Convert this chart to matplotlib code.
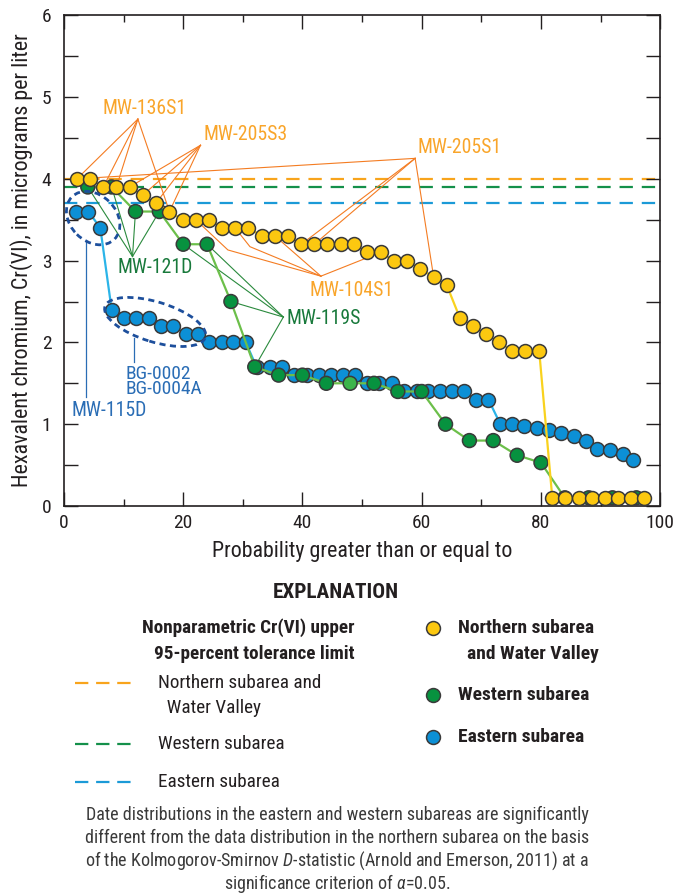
import matplotlib
matplotlib.use('Agg')
import matplotlib.pyplot as plt
from matplotlib import font_manager as fm
from matplotlib.lines import Line2D
from matplotlib.patches import Ellipse
from matplotlib.transforms import ScaledTranslation
from matplotlib.ticker import MultipleLocator


def pick_font():
    # a condensed sans close to the USGS Univers Condensed look
    static = {}
    for f in fm.fontManager.ttflist:
        if '[' not in f.fname:
            static.setdefault(f.name, set()).add((f.weight, f.style))
    for fam in ['Roboto Condensed', 'Fira Sans Condensed', 'IBM Plex Sans Condensed',
                'Asap Condensed', 'Barlow Semi Condensed', 'Liberation Sans Narrow']:
        w = static.get(fam, set())
        if (400, 'normal') in w and (700, 'normal') in w:
            return fam
    return 'DejaVu Sans'


font = pick_font()
plt.rcParams['font.family'] = [font, 'DejaVu Sans']
plt.rcParams['mathtext.fontset'] = 'custom'
plt.rcParams['mathtext.rm'] = font
plt.rcParams['mathtext.it'] = font + ':italic'

# Northern subarea and Water Valley
north_x = [2.2, 4.4, 6.6, 8.8, 11.0, 13.2, 15.4, 17.7, 19.9, 22.1, 24.3, 26.5,
           28.7, 30.9, 33.2, 35.4, 37.6, 39.8, 42.0, 44.2, 46.4, 48.7, 50.9,
           53.1, 55.3, 57.5, 59.7, 62.0, 64.2, 66.4, 68.6, 70.8, 73.0, 75.2,
           77.4, 79.7, 81.9, 84.1, 86.3, 88.5, 90.7, 92.9, 95.1, 97.3]
north_y = [4.0, 4.0, 3.9, 3.9, 3.9, 3.8, 3.7, 3.6, 3.5, 3.5, 3.5, 3.4,
           3.4, 3.4, 3.3, 3.3, 3.3, 3.2, 3.2, 3.2, 3.2, 3.2, 3.1,
           3.1, 3.0, 3.0, 2.9, 2.8, 2.7, 2.3, 2.2, 2.1, 2.0, 1.9,
           1.9, 1.9, 0.1, 0.1, 0.1, 0.1, 0.1, 0.1, 0.1, 0.1]

# Western subarea
west_x = [4, 8, 12, 16, 20, 24, 28, 32, 36, 40, 44, 48,
          52, 56, 60, 64, 68, 72, 76, 80, 84, 88, 92, 96]
west_y = [3.9, 3.9, 3.6, 3.6, 3.2, 3.2, 2.5, 1.7, 1.6, 1.6, 1.5, 1.5,
          1.5, 1.4, 1.4, 1.0, 0.8, 0.8, 0.62, 0.53, 0.1, 0.1, 0.1, 0.1]
# one sample is printed in a lighter green
west_light = [False] * 11 + [True] + [False] * 12

# Eastern subarea
east_x = [2.1, 4.1, 6.1, 8.0, 10.0, 12.1, 14.2, 16.2, 18.3, 20.5, 22.4, 24.4,
          26.5, 28.4, 30.5, 32.3, 34.5, 36.5, 38.5, 40.7, 42.7, 44.8, 46.8,
          48.8, 50.8, 52.8, 55.0, 57.1, 59.2, 61.1, 63.1, 65.1, 67.1, 69.1,
          71.2, 73.2, 75.2, 77.2, 79.3, 81.3, 83.4, 85.5, 87.6, 89.4, 91.6,
          93.7, 95.5]
east_y = [3.6, 3.6, 3.4, 2.4, 2.3, 2.3, 2.3, 2.2, 2.2, 2.1, 2.1, 2.0,
          2.0, 2.0, 2.0, 1.7, 1.7, 1.7, 1.6, 1.6, 1.6, 1.6, 1.6,
          1.6, 1.5, 1.5, 1.5, 1.4, 1.4, 1.4, 1.4, 1.4, 1.4, 1.3,
          1.3, 1.0, 1.0, 0.98, 0.95, 0.93, 0.89, 0.85, 0.79, 0.70, 0.68,
          0.64, 0.56]

# upper 95-percent tolerance limits
utl_north, utl_west, utl_east = 4.0, 3.9, 3.7

c_north, c_west, c_east = '#fcc810', '#07923f', '#0c90d6'
c_west_light = '#3db54a'
l_north, l_west, l_east = '#f9d21e', '#6cbf4a', '#2bb4e8'
d_north, d_west, d_east = '#f8a41c', '#14904a', '#1b9ad7'
edge = '#3a3a3a'
orange_txt, orange_ln = '#f9a52a', '#f47c22'
green_txt, green_ln = '#18793b', '#2a8a3d'
blue_txt, blue_ell = '#2a6db5', '#1d4f9c'
txt = '#231f20'

fig = plt.figure(figsize=(6.73, 8.94), dpi=100)
ax = fig.add_axes([0.095, 0.434, 0.886, 0.549])

dash = (0, (6, 4))
ax.axhline(utl_north, color=d_north, lw=1.6, ls=dash, zorder=1)
ax.axhline(utl_west, color=d_west, lw=1.6, ls=dash, zorder=1)
ax.axhline(utl_east, color=d_east, lw=1.6, ls=dash, zorder=1)

ms = 10
ax.plot(east_x, east_y, color=l_east, lw=1.6, zorder=2)
ax.plot(east_x, east_y, 'o', ms=ms, mfc=c_east, mec=edge, mew=1.1, zorder=3)
ax.plot(west_x, west_y, color=l_west, lw=1.6, zorder=4)
ax.scatter(west_x, west_y, s=ms ** 2, c=[c_west_light if f else c_west for f in west_light],
           edgecolors=edge, linewidths=1.1, zorder=5)
ax.plot(north_x, north_y, color=l_north, lw=1.6, zorder=6)
ax.plot(north_x, north_y, 'o', ms=ms, mfc=c_north, mec=edge, mew=1.1, zorder=7)


def leader(apex, targets, color, xs, ys, bends=None):
    for k, i in enumerate(targets):
        px = [apex[0]]
        py = [apex[1]]
        if bends and bends[k] is not None:
            px.append(bends[k][0])
            py.append(bends[k][1])
        px.append(xs[i])
        py.append(ys[i])
        ax.plot(px, py, color=color, lw=0.8, zorder=1.8)


lab = dict(fontsize=14.2, va='center')
# northern well labels
leader((12.4, 4.73), [0, 2, 3, 7], orange_ln, north_x, north_y)
ax.text(13.6, 4.86, 'MW-136S1', color=orange_txt, ha='center', **lab)
leader((22.9, 4.41), [4, 5, 6, 7], orange_ln, north_x, north_y)
ax.text(30.5, 4.54, 'MW-205S3', color=orange_txt, ha='center', **lab)
leader((58.9, 4.25), [0, 17, 18, 27], orange_ln, north_x, north_y)
ax.text(66.3, 4.38, 'MW-205S1', color=orange_txt, ha='center', **lab)
leader((43.1, 2.81), [9, 12, 15, 23], orange_ln, north_x, north_y,
       bends=[(27.5, 3.13), (31.2, 3.17), None, None])
ax.text(48.2, 2.64, 'MW-104S1', color=orange_txt, ha='center', **lab)

# western well labels
leader((11.5, 3.05), [0, 1, 2, 3], green_ln, west_x, west_y)
ax.text(15.3, 2.91, 'MW-121D', color=green_txt, ha='center', **lab)
leader((36.8, 2.31), [4, 5, 6, 7], green_ln, west_x, west_y)
ax.text(37.4, 2.29, 'MW-119S', color=green_txt, ha='left', **lab)

# eastern well labels and ellipses
for cx, cy, w, h, ang in [(4.9, 3.52, 0.60, 0.46, -45), (15.3, 2.25, 1.05, 0.40, -17)]:
    ell = Ellipse((0, 0), w, h, angle=ang, fill=False, ec=blue_ell, lw=2.0,
                  ls=(0, (2.2, 1.6)),
                  transform=fig.dpi_scale_trans + ScaledTranslation(cx, cy, ax.transData),
                  zorder=8)
    ax.add_patch(ell)
ax.plot([3.65, 3.65], [3.25, 1.33], color=blue_txt, lw=0.9, zorder=1.8)
ax.text(1.35, 1.17, 'MW-115D', color=blue_txt, ha='left', **lab)
ax.plot([11.7, 11.7], [2.05, 1.76], color=blue_txt, lw=0.9, zorder=1.8)
ax.text(10.3, 1.52, 'BG-0002\nBG-0004A', color=blue_txt, ha='left', va='center',
        fontsize=14, linespacing=0.78)

ax.set_xlim(0, 100)
ax.set_ylim(0, 6)
ax.xaxis.set_major_locator(MultipleLocator(20))
ax.xaxis.set_minor_locator(MultipleLocator(10))
ax.yaxis.set_major_locator(MultipleLocator(1))
ax.yaxis.set_minor_locator(MultipleLocator(0.5))
ax.tick_params(which='both', direction='in', top=True, right=True, width=1.0,
               color='#231f20')
ax.tick_params(axis='x', which='major', length=10, pad=6, labelsize=14, labelcolor=txt)
ax.tick_params(axis='x', which='minor', length=5)
ax.tick_params(axis='y', which='both', length=10, pad=9, labelsize=14, labelcolor=txt)
for s in ax.spines.values():
    s.set_linewidth(1.2)
    s.set_color('#231f20')
ax.set_xlabel('Probability greater than or equal to', fontsize=15.8, color=txt, labelpad=6)
ax.set_ylabel('Hexavalent chromium, Cr(VI), in micrograms per liter', fontsize=15.8,
              color=txt, labelpad=6)


def fx(p):
    return p / 673


def fy(p):
    return 1 - p / 894


fig.text(fx(336), fy(592), 'EXPLANATION', ha='center', va='center', fontsize=15.3,
         fontweight='bold', color=txt)
fig.text(fx(355), fy(628), 'Nonparametric Cr(VI) upper', ha='right', va='center',
         fontsize=13.8, fontweight='bold', color=txt)
fig.text(fx(355), fy(654), '95-percent tolerance limit', ha='right', va='center',
         fontsize=13.8, fontweight='bold', color=txt)

leg_lines = [(683, d_north, ['Northern subarea and', '  Water Valley']),
             (744, d_west, ['Western subarea']),
             (782, d_east, ['Eastern subarea'])]
for ypx, col, labels in leg_lines:
    fig.add_artist(Line2D([fx(75), fx(131)], [fy(ypx), fy(ypx)], color=col, lw=1.6,
                          ls=(0, (6, 3.5)), transform=fig.transFigure))
    for j, t in enumerate(labels):
        fig.text(fx(158), fy(ypx + 25 * j), t, ha='left', va='center', fontsize=13.8,
                 color=txt)

leg_marks = [(628, c_north, ['Northern subarea', '  and Water Valley']),
             (695, c_west, ['Western subarea']),
             (737, c_east, ['Eastern subarea'])]
for ypx, col, labels in leg_marks:
    fig.add_artist(Line2D([fx(433)], [fy(ypx)], marker='o', ms=ms, mfc=col, mec=edge,
                          mew=1.1, transform=fig.transFigure))
    for j, t in enumerate(labels):
        fig.text(fx(458), fy(ypx + 26 * j), t, ha='left', va='center', fontsize=14,
                 fontweight='bold', color=txt)

note = ['Date distributions in the eastern and western subareas are significantly',
        'different from the data distribution in the northern subarea on the basis',
        'of the Kolmogorov-Smirnov $D$-statistic (Arnold and Emerson, 2011) at a',
        r'significance criterion of $\alpha$=0.05.']
for j, line in enumerate(note):
    fig.text(fx(337), fy(815 + 22.8 * j), line, ha='center', va='center', fontsize=13,
             color='#3a3a3a')

fig.savefig('out.png', dpi=100)
